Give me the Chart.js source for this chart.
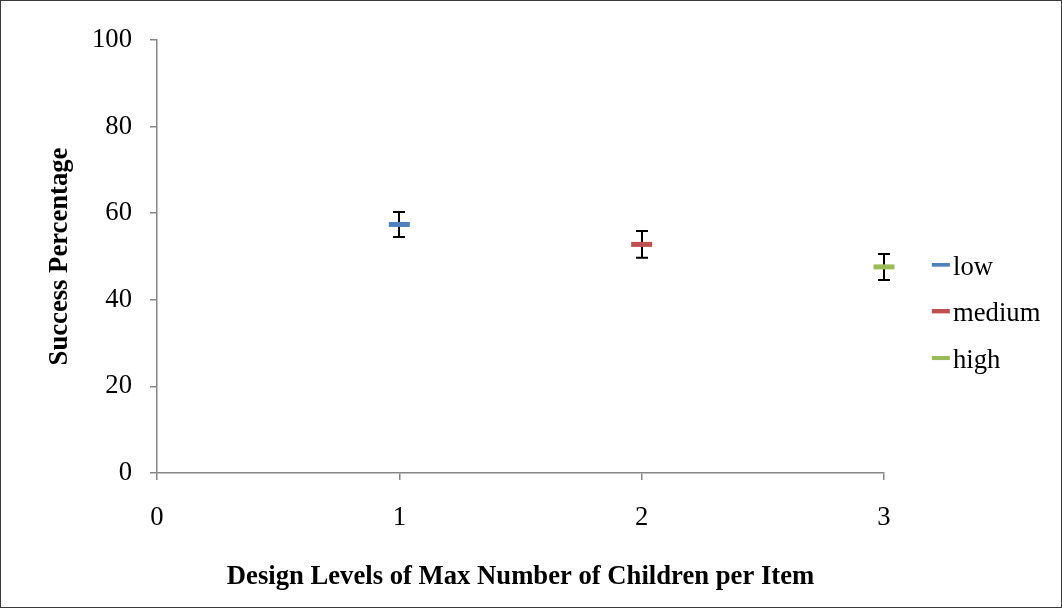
<!DOCTYPE html>
<html>
<head>
<meta charset="utf-8">
<script src="https://cdn.jsdelivr.net/npm/chart.js@4.4.1/dist/chart.umd.min.js"></script>
<style>
  html, body { margin: 0; padding: 0; background: #ffffff; }
  #wrap { width: 1062px; height: 608px; }
  canvas { display: block; }
</style>
</head>
<body>
<div id="wrap"><canvas id="chart" width="1062" height="608"></canvas></div>
<script>
// Series and values
const seriesNames = ['low', 'medium', 'high'];
const designLevels = [1, 2, 3];
const successPct = [57.4, 52.8, 47.6];
const errMargin = [2.9, 3.1, 3.0];
const seriesColors = ['#4F81BD', '#C0504D', '#9BBB59'];

// Axis ticks
const xTickValues = [0, 1, 2, 3];
const yTickValues = [0, 20, 40, 60, 80, 100];

// Text
const xTitle = 'Design Levels of Max Number of Children per Item';
const yTitle = 'Success Percentage';

// Styling / layout constants
const FAMILY = "'Liberation Serif', 'Times New Roman', Times, serif";
const FONT_PX = 26.67;
const AXIS_GRAY = '#868686';
const PLOT_LEFT = 157;
const PLOT_TOP = 40;
const PLOT_BOTTOM = 473;
const PLOT_RIGHT = 884;
const LEG_PAD = 20;
const LEG_BOX = 35.67;
const PAD_BOTTOM = 19.3;

// Legend swatches: short horizontal bars, offset so they sit right before the label text
function makeSwatch(color) {
  const c = document.createElement('canvas');
  c.width = 58; c.height = 10;
  const g = c.getContext('2d');
  g.fillStyle = color;
  g.fillRect(39, 0, 18, 4);
  return c;
}
const legendSwatches = seriesColors.map(makeSwatch);

// Width reserved for the right-hand legend so the plot ends at PLOT_RIGHT
const mctx = document.createElement('canvas').getContext('2d');
mctx.font = 'normal ' + FONT_PX + 'px ' + FAMILY;
const maxLabelW = Math.max(...seriesNames.map(s => mctx.measureText(s).width));
const legendWidth = LEG_PAD + LEG_BOX + FONT_PX / 2 + maxLabelW + 10;
const padRight = 1062 - PLOT_RIGHT - legendWidth;

const datasets = seriesNames.map((name, i) => ({
  label: name,
  data: [{ x: designLevels[i], y: successPct[i] }],
  pointStyle: 'line',
  pointRadius: 10.5,
  pointHoverRadius: 10.5,
  pointBorderWidth: 5,
  pointHoverBorderWidth: 5,
  borderColor: seriesColors[i],
  backgroundColor: seriesColors[i],
  showLine: false,
  clip: false
}));

// White background and outer frame
const frame = {
  id: 'frame',
  beforeDraw(chart) {
    const { ctx, width, height } = chart;
    ctx.save();
    ctx.fillStyle = '#ffffff';
    ctx.fillRect(0, 0, width, height);
    ctx.restore();
  },
  afterDraw(chart) {
    const { ctx, width, height } = chart;
    ctx.save();
    ctx.strokeStyle = '#3a3a3a';
    ctx.lineWidth = 1;
    ctx.strokeRect(0.5, 0.5, width - 1, height - 1);
    ctx.restore();
  }
};

// Vertical error bars with caps, drawn beneath the markers
const errorBars = {
  id: 'errorBars',
  beforeDatasetsDraw(chart) {
    const { ctx, scales: { x, y } } = chart;
    ctx.save();
    ctx.strokeStyle = '#000000';
    ctx.lineWidth = 2;
    designLevels.forEach((lvl, i) => {
      const px = Math.round(x.getPixelForValue(lvl));
      const yHi = y.getPixelForValue(successPct[i] + errMargin[i]);
      const yLo = y.getPixelForValue(successPct[i] - errMargin[i]);
      ctx.beginPath();
      ctx.moveTo(px, yHi); ctx.lineTo(px, yLo);
      ctx.moveTo(px - 6, yHi); ctx.lineTo(px + 6, yHi);
      ctx.moveTo(px - 6, yLo); ctx.lineTo(px + 6, yLo);
      ctx.stroke();
    });
    ctx.restore();
  }
};

Chart.defaults.font.family = FAMILY;
Chart.defaults.color = '#000000';

new Chart(document.getElementById('chart'), {
  type: 'scatter',
  data: { datasets },
  options: {
    responsive: false,
    devicePixelRatio: 1,
    animation: false,
    events: [],
    layout: { padding: { top: PLOT_TOP, bottom: PAD_BOTTOM, left: 0, right: padRight } },
    plugins: {
      tooltip: { enabled: false },
      legend: {
        display: true,
        position: 'right',
        align: 'center',
        labels: {
          usePointStyle: true,
          pointStyleWidth: LEG_BOX,
          padding: LEG_PAD,
          color: '#000000',
          font: { family: FAMILY, size: FONT_PX },
          generateLabels(chart) {
            const items = Chart.defaults.plugins.legend.labels.generateLabels(chart);
            items.forEach((it, i) => { it.pointStyle = legendSwatches[i]; });
            return items;
          }
        }
      }
    },
    scales: {
      x: {
        type: 'linear',
        min: 0,
        max: 3,
        afterBuildTicks(scale) { scale.ticks = xTickValues.map(v => ({ value: v })); },
        afterFit(scale) { scale.height = 608 - PAD_BOTTOM - PLOT_BOTTOM; },
        border: { display: true, color: AXIS_GRAY, width: 1.5 },
        grid: { display: true, drawOnChartArea: false, drawTicks: true, tickLength: 7, color: AXIS_GRAY, lineWidth: 1.5 },
        ticks: { padding: 22, color: '#000000', font: { family: FAMILY, size: FONT_PX }, maxRotation: 0 },
        title: {
          display: true,
          text: xTitle,
          color: '#000000',
          font: { family: FAMILY, size: FONT_PX, weight: 'bold', lineHeight: 0.875 },
          padding: { top: 0, bottom: 0 }
        }
      },
      y: {
        type: 'linear',
        min: 0,
        max: 100,
        afterBuildTicks(scale) { scale.ticks = yTickValues.map(v => ({ value: v })); },
        afterFit(scale) { scale.width = PLOT_LEFT; },
        border: { display: true, color: AXIS_GRAY, width: 1.5 },
        grid: { display: true, drawOnChartArea: false, drawTicks: true, tickLength: 7, color: AXIS_GRAY, lineWidth: 1.5 },
        ticks: { padding: 18, color: '#000000', font: { family: FAMILY, size: FONT_PX } },
        title: {
          display: true,
          text: yTitle,
          color: '#000000',
          font: { family: FAMILY, size: FONT_PX, weight: 'bold', lineHeight: 1.2 },
          padding: { top: 44, bottom: 0 }
        }
      }
    }
  },
  plugins: [frame, errorBars]
});
</script>
</body>
</html>
